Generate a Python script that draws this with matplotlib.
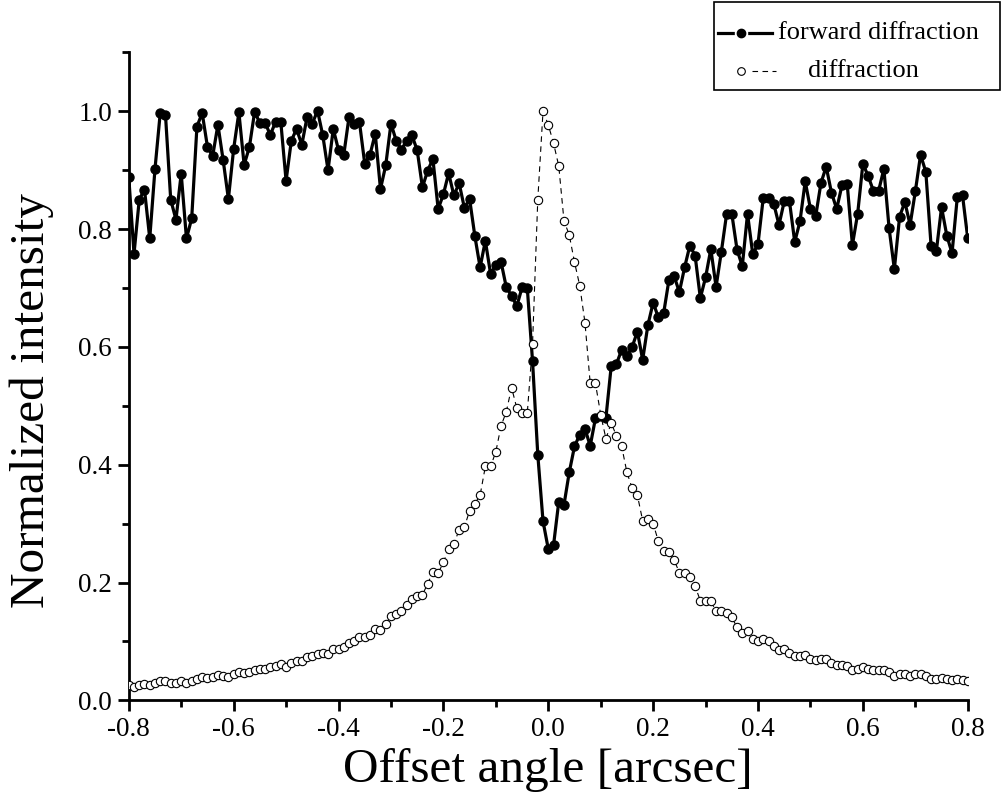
import numpy as np
import matplotlib
matplotlib.use('Agg')
import matplotlib.pyplot as plt
from matplotlib.lines import Line2D
from matplotlib.patches import Rectangle
from matplotlib.ticker import MultipleLocator

plt.rcParams['font.family'] = ['Liberation Serif', 'DejaVu Serif']

# offset angle grid [arcsec], step 0.01
offset = np.linspace(-0.8, 0.8, 161)

forward = [
    0.888, 0.758, 0.850, 0.867, 0.784, 0.902, 0.997, 0.994, 0.850, 0.816,
    0.894, 0.784, 0.818, 0.974, 0.997, 0.940, 0.924, 0.977, 0.917, 0.851,
    0.936, 0.998, 0.909, 0.939, 0.999, 0.980, 0.980, 0.960, 0.982, 0.981,
    0.882, 0.950, 0.970, 0.943, 0.990, 0.979, 1.001, 0.959, 0.900, 0.970,
    0.934, 0.926, 0.990, 0.979, 0.981, 0.911, 0.926, 0.962, 0.868, 0.908,
    0.979, 0.950, 0.935, 0.950, 0.959, 0.934, 0.871, 0.899, 0.919, 0.834,
    0.859, 0.895, 0.857, 0.878, 0.836, 0.851, 0.788, 0.735, 0.780, 0.724,
    0.739, 0.744, 0.701, 0.687, 0.669, 0.701, 0.700, 0.576, 0.417, 0.304,
    0.257, 0.263, 0.337, 0.332, 0.387, 0.431, 0.451, 0.461, 0.432, 0.479,
    0.483, 0.480, 0.567, 0.571, 0.595, 0.584, 0.600, 0.626, 0.578, 0.637,
    0.675, 0.650, 0.657, 0.713, 0.720, 0.693, 0.735, 0.772, 0.755, 0.683,
    0.718, 0.766, 0.702, 0.761, 0.825, 0.826, 0.765, 0.737, 0.826, 0.757,
    0.775, 0.853, 0.853, 0.843, 0.807, 0.847, 0.847, 0.778, 0.813, 0.881,
    0.834, 0.822, 0.878, 0.906, 0.862, 0.834, 0.874, 0.877, 0.773, 0.826,
    0.911, 0.890, 0.865, 0.865, 0.902, 0.801, 0.732, 0.821, 0.846, 0.807,
    0.864, 0.926, 0.897, 0.772, 0.762, 0.837, 0.789, 0.759, 0.854, 0.857,
    0.784,
]

diffraction = [
    0.026, 0.023, 0.026, 0.028, 0.026, 0.030, 0.033, 0.032, 0.029, 0.030,
    0.033, 0.030, 0.033, 0.037, 0.039, 0.038, 0.039, 0.043, 0.041, 0.039,
    0.045, 0.048, 0.046, 0.048, 0.052, 0.053, 0.054, 0.056, 0.058, 0.061,
    0.056, 0.063, 0.067, 0.067, 0.073, 0.075, 0.079, 0.080, 0.079, 0.087,
    0.088, 0.091, 0.098, 0.101, 0.107, 0.107, 0.111, 0.121, 0.120, 0.129,
    0.143, 0.147, 0.151, 0.162, 0.172, 0.177, 0.179, 0.198, 0.218, 0.216,
    0.234, 0.257, 0.266, 0.289, 0.294, 0.322, 0.334, 0.348, 0.397, 0.397,
    0.422, 0.466, 0.490, 0.531, 0.496, 0.488, 0.488, 0.605, 0.850, 1.000,
    0.977, 0.946, 0.907, 0.814, 0.790, 0.744, 0.704, 0.641, 0.538, 0.538,
    0.485, 0.444, 0.471, 0.449, 0.431, 0.387, 0.360, 0.348, 0.305, 0.308,
    0.300, 0.270, 0.254, 0.252, 0.238, 0.217, 0.216, 0.209, 0.194, 0.169,
    0.169, 0.169, 0.151, 0.151, 0.148, 0.141, 0.124, 0.114, 0.118, 0.104,
    0.101, 0.104, 0.101, 0.093, 0.086, 0.088, 0.081, 0.075, 0.076, 0.077,
    0.070, 0.069, 0.071, 0.070, 0.063, 0.060, 0.060, 0.058, 0.052, 0.054,
    0.057, 0.053, 0.052, 0.051, 0.052, 0.048, 0.042, 0.045, 0.045, 0.042,
    0.045, 0.045, 0.042, 0.036, 0.037, 0.038, 0.036, 0.035, 0.036, 0.035,
    0.032,
]

fig = plt.figure(figsize=(10.06, 8.05), dpi=100)
ax = fig.add_axes([0.128, 0.130, 0.834, 0.805])

ax.plot(offset, forward, color='black', lw=2.3, marker='o', ms=6.5,
        mfc='black', mec='black', zorder=2)
ax.plot(offset, diffraction, color='black', lw=0.8, ls=(0, (5, 4)), marker='o',
        ms=6, mfc='white', mec='black', mew=0.8, zorder=3)

ax.set_xlim(-0.8, 0.8)
ax.set_ylim(0, 1.1)
ax.xaxis.set_major_locator(MultipleLocator(0.2))
ax.xaxis.set_minor_locator(MultipleLocator(0.1))
ax.yaxis.set_major_locator(MultipleLocator(0.2))
ax.yaxis.set_minor_locator(MultipleLocator(0.1))
ax.xaxis.set_major_formatter(plt.FuncFormatter(lambda v, p: f'{v:.1f}'.replace('-0.0', '0.0')))
ax.yaxis.set_major_formatter(plt.FuncFormatter(lambda v, p: f'{v:.1f}'))

for s in ['top', 'right']:
    ax.spines[s].set_visible(False)
for s in ['left', 'bottom']:
    ax.spines[s].set_linewidth(2)
ax.tick_params(which='major', direction='out', length=8, width=2, labelsize=19.5, pad=4)
ax.tick_params(which='minor', direction='out', length=5, width=2)

ax.set_xlabel('Offset angle [arcsec]', fontsize=35.5, labelpad=4)
ax.set_ylabel('Normalized intensity', fontsize=35.5)
ax.yaxis.set_label_coords(-0.089, 0.463)

# legend box (Origin style), drawn in figure pixels
W, H = 1006, 805
def fx(px): return px / W
def fy(py): return 1 - py / H

fig.patches.append(Rectangle((fx(714), fy(90)), fx(1000) - fx(714), fy(2) - fy(90),
                             transform=fig.transFigure, fill=False, lw=1.2, ec='black'))
fig.lines.append(Line2D([fx(718), fx(772)], [fy(33), fy(33)], transform=fig.transFigure,
                        color='black', lw=2.3))
fig.lines.append(Line2D([fx(741)], [fy(33)], transform=fig.transFigure, color='white',
                        marker='s', ms=9, mec='white', ls='none'))
fig.lines.append(Line2D([fx(741)], [fy(33)], transform=fig.transFigure, color='black',
                        marker='o', ms=6, ls='none'))
fig.text(fx(778), fy(33), 'forward diffraction', fontsize=19, va='center', ha='left')

fig.lines.append(Line2D([fx(752), fx(776)], [fy(71), fy(71)], transform=fig.transFigure,
                        color='black', lw=0.8, ls=(0, (5, 4))))
fig.lines.append(Line2D([fx(741)], [fy(71)], transform=fig.transFigure, color='black',
                        marker='o', ms=5.5, mfc='white', mew=0.8, ls='none'))
fig.text(fx(863), fy(71), 'diffraction', fontsize=19, va='center', ha='center')

fig.savefig('out.png', dpi=100)
